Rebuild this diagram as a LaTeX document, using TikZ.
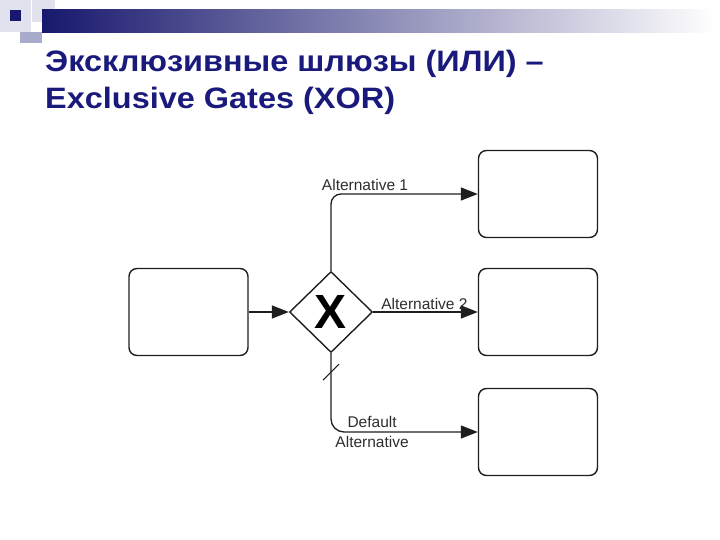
\documentclass[tikz,border=0pt]{standalone}
\usepackage{fontspec}
\setmainfont{Liberation Sans}
\usetikzlibrary{shapes.geometric,arrows.meta}
\definecolor{barnavy}{RGB}{24,24,110}
\definecolor{titlenavy}{RGB}{26,26,125}
\definecolor{lineink}{RGB}{30,30,30}
\definecolor{labelink}{RGB}{45,45,45}
\definecolor{lavlight}{RGB}{226,226,238}
\definecolor{lavmid}{RGB}{170,170,205}
\begin{document}
\begin{tikzpicture}[x=1pt,y=-1pt,
  task/.style={draw=lineink, line width=1.4pt, rounded corners=8pt,
    minimum width=119pt, minimum height=87pt},
  gate/.style={diamond, draw=lineink, line width=1.4pt, inner sep=0pt,
    minimum width=83pt, minimum height=81pt,
    font=\fontsize{48}{48}\selectfont\bfseries},
  flow/.style={draw=lineink, line width=1.3pt,
    -{Triangle[length=17pt,width=13pt]}},
  flowlabel/.style={text=labelink, font=\fontsize{15.5}{20}\selectfont, inner sep=1pt},
  titleline/.style={anchor=base west, text=titlenavy, inner sep=0pt,
    xscale=1.1, transform shape, font=\fontsize{29.5}{37}\selectfont\bfseries}]
\useasboundingbox (0,0) rectangle (720,540);
% header decoration
\fill[lavlight] (0,0) rectangle (31,32);
\fill[lavlight] (32,0) rectangle (55,22);
\fill[barnavy] (10,10) rectangle (21,21);
\fill[lavmid] (20,32) rectangle (42,43);
\shade[left color=barnavy, right color=white] (42,10) rectangle (715,33);
% title
\node[titleline] (title1) at (45,72) {Эксклюзивные шлюзы (ИЛИ) –};
\node[titleline] (title2) at (45,109) {Exclusive Gates (XOR)};
% tasks and gateway
\node[task] (src) at (188.5,312) {};
\node[task] (alt1) at (538,194) {};
\node[task] (alt2) at (538,312) {};
\node[task] (dflt) at (538,432) {};
\node[gate] (xor) at (331,312) {X};
% sequence flows
\draw[flow] (src) -- (xor);
\draw[flow, rounded corners=10pt] (xor.north) |- (alt1.west)
  node[flowlabel, pos=0.616, above=2pt] {Alternative 1};
\draw[flow] (xor.east) -- (alt2.west)
  node[flowlabel, pos=0.49, above=1pt] {Alternative 2};
\draw[flow, rounded corners=13pt] (xor.south) |- (dflt.west)
  node[flowlabel, pos=0.64, align=center] {Default\\Alternative};
% default marker
\path (xor.south) -- ++(0,19) coordinate (slash);
\draw[lineink, line width=1.1pt] (slash) ++(-8,8) -- ++(16,-16);
\end{tikzpicture}
\end{document}
